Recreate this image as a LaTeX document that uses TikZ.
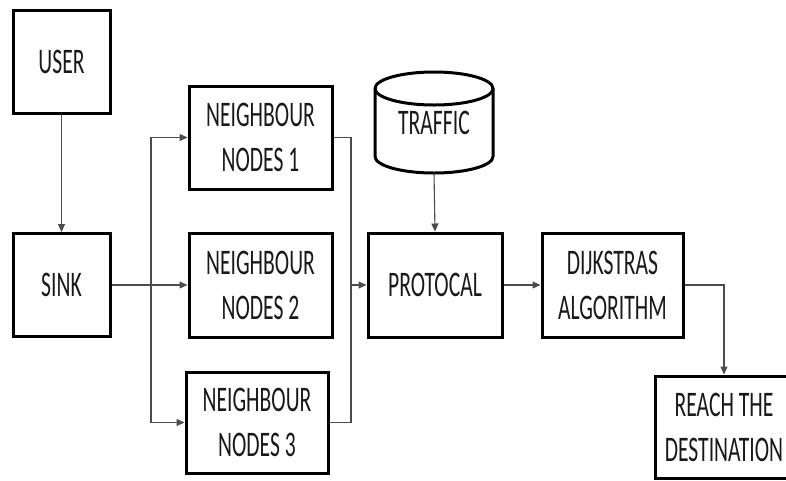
\documentclass[tikz,border=0pt]{standalone}
\usepackage{fontspec}
\setmainfont{Carlito}[FakeStretch=0.6]
\usetikzlibrary{arrows.meta}
\begin{document}
\begin{tikzpicture}[x=1pt,y=-1pt,
  box/.style={draw=black,line width=3pt,fill=white,align=center,inner sep=0pt,
    font=\fontsize{36}{45}\selectfont,text=black!90},
  conn/.style={draw=black!70,line width=1.1pt},
  arr/.style={conn,-{Triangle[length=8pt,width=7pt]}}]
\clip (0,0) rectangle (786,480);
\fill[white] (0,0) rectangle (786,480);
% nodes
\node[box,minimum width=97,minimum height=103] (user) at (61.5,61.5) {USER};
\node[box,minimum width=97,minimum height=103] (sink) at (61.5,285) {SINK};
\node[box,minimum width=143,minimum height=103] (nn1) at (260.5,137.5) {NEIGHBOUR\\NODES 1};
\node[box,minimum width=143,minimum height=104] (nn2) at (260.5,285) {NEIGHBOUR\\NODES 2};
\node[box,minimum width=142,minimum height=101] (nn3) at (257,422.5) {NEIGHBOUR\\NODES 3};
\node[box,minimum width=134,minimum height=104] (proto) at (435,285) {PROTOCAL};
\node[box,minimum width=141,minimum height=104] (dijk) at (612.5,285) {DIJKSTRAS\\ALGORITHM};
\node[box,minimum width=138,minimum height=102] (reach) at (724,427) {REACH THE\\DESTINATION};
% traffic cylinder
\draw[line width=3pt,fill=white] (375,88.5) -- (375,156.5)
  arc[start angle=180,end angle=0,x radius=59,y radius=16.5] -- (493,88.5)
  arc[start angle=0,end angle=-180,x radius=59,y radius=16.5] -- cycle;
\draw[line width=3pt] (375,88.5) arc[start angle=180,end angle=0,x radius=59,y radius=16.5];
\node[align=center,inner sep=0pt,minimum width=118,minimum height=101,
  font=\fontsize{36}{45}\selectfont,text=black!90] (traffic) at (434,122.5) {\raisebox{-10pt}{TRAFFIC}};
% connectors
\coordinate (bx) at (151,285);
\coordinate (rx) at (351,285);
\draw[arr] (user.south) -- (sink.north);
\draw[arr] (sink.east) -- (nn2.west);
\draw[arr] (bx) |- (nn1.west);
\draw[arr] (bx) |- (nn3.west);
\draw[conn] (nn1.east) -| (rx);
\draw[conn] (nn3.east) -| (rx);
\draw[arr] (rx) -- (proto.west);
\draw[arr] (traffic.south) -- (proto.north);
\draw[arr] (proto.east) -- (dijk.west);
\draw[arr] (dijk.east) -| (reach.north);
\end{tikzpicture}
\end{document}
